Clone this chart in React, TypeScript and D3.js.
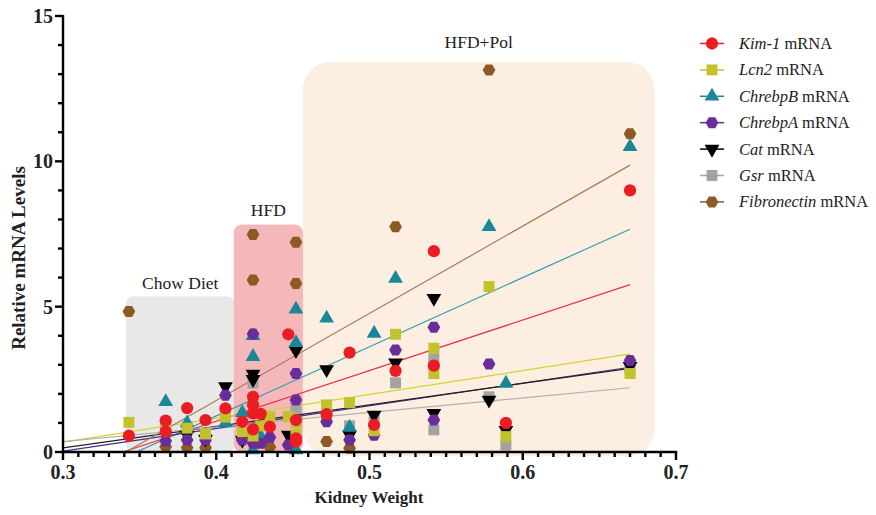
import React from 'react';
import * as d3 from 'd3';

// each point is [kidney weight, relative mRNA level]
const kim1 = [
  [0.343, 0.56], [0.367, 1.08], [0.367, 0.7], [0.381, 1.51], [0.393, 1.1], [0.406, 1.5],
  [0.417, 1.04], [0.424, 1.9], [0.424, 1.62], [0.424, 1.33], [0.424, 0.78], [0.429, 1.31],
  [0.435, 0.87], [0.447, 4.05], [0.452, 1.1], [0.452, 0.47], [0.452, 0.36], [0.472, 1.3],
  [0.487, 3.42], [0.503, 0.93], [0.517, 2.79], [0.542, 6.91], [0.542, 2.97], [0.589, 1.0],
  [0.67, 9.0]
];
const lcn2 = [
  [0.343, 1.02], [0.367, 0.87], [0.381, 0.82], [0.393, 0.62], [0.406, 1.2], [0.417, 0.7],
  [0.424, 0.55], [0.429, 0.9], [0.435, 1.21], [0.447, 1.21], [0.452, 1.0], [0.452, 0.6],
  [0.472, 1.62], [0.487, 1.7], [0.503, 0.73], [0.517, 4.05], [0.542, 3.57], [0.542, 2.7],
  [0.578, 5.69], [0.589, 0.53], [0.67, 2.7]
];
const chrebpB = [
  [0.367, 1.73], [0.381, 1.0], [0.406, 1.0], [0.417, 1.35], [0.424, 4.0], [0.424, 3.28],
  [0.424, 0.07], [0.429, 0.53], [0.452, 4.91], [0.452, 3.76], [0.452, 0.07], [0.472, 4.6],
  [0.487, 0.84], [0.503, 4.08], [0.517, 5.97], [0.578, 7.75], [0.589, 2.36], [0.67, 10.5]
];
const chrebpA = [
  [0.367, 0.38], [0.381, 0.41], [0.393, 0.41], [0.406, 1.95], [0.417, 0.41], [0.424, 4.06],
  [0.424, 0.3], [0.429, 0.3], [0.435, 0.5], [0.447, 0.24], [0.452, 2.7], [0.452, 1.79],
  [0.472, 1.04], [0.487, 0.41], [0.503, 0.58], [0.517, 3.51], [0.542, 4.29], [0.542, 1.1],
  [0.578, 3.03], [0.67, 3.15]
];
const cat = [
  [0.381, 0.58], [0.393, 0.45], [0.406, 2.25], [0.417, 0.41], [0.424, 2.68], [0.424, 2.5],
  [0.447, 0.58], [0.452, 3.49], [0.472, 2.84], [0.487, 0.58], [0.503, 1.27], [0.517, 3.07],
  [0.542, 5.29], [0.542, 1.33], [0.578, 1.79], [0.589, 0.75], [0.67, 2.95]
];
const gsr = [
  [0.367, 0.9], [0.381, 0.85], [0.406, 1.3], [0.424, 2.37], [0.424, 0.6], [0.452, 1.5],
  [0.472, 1.3], [0.487, 0.9], [0.503, 1.1], [0.517, 2.38], [0.542, 3.2], [0.542, 0.76],
  [0.578, 1.9], [0.589, 0.24], [0.67, 2.85]
];
const fibronectin = [
  [0.343, 4.83], [0.367, 0.18], [0.381, 0.15], [0.393, 0.15], [0.424, 7.48], [0.424, 5.92],
  [0.435, 0.17], [0.452, 7.22], [0.452, 5.8], [0.472, 0.36], [0.487, 0.13], [0.517, 7.75],
  [0.578, 13.14], [0.67, 10.95]
];

const geneNames = ['Kim-1', 'Lcn2', 'ChrebpB', 'ChrebpA', 'Cat', 'Gsr', 'Fibronectin'];
const genePoints = [kim1, lcn2, chrebpB, chrebpA, cat, gsr, fibronectin];
// linear fits: y = intercept + slope * x
const fitSlopes = [17.4, 8.2, 23.8, 7.8, 7.4, 5.0, 30];
const fitIntercepts = [-5.9, -2.12, -8.28, -2.31, -2.08, -1.14, -10.23];
const fitEndX = 0.67;

const groupNames = ['Chow Diet', 'HFD', 'HFD+Pol'];
const groupX = [[0.341, 0.412], [0.4115, 0.4565], [0.4565, 0.686]];
const groupTop = [5.35, 7.82, 13.42];

const xTicks = [0.3, 0.4, 0.5, 0.6, 0.7];
const yTicks = [0, 5, 10, 15];

const colors = ['#ec1c24', '#c2c22c', '#1a8798', '#6a2c98', '#000000', '#a3a3a3', '#8c5a22'];
const lineColors = ['#f0323c', '#d4d42a', '#3a9cae', '#4a2a8a', '#222222', '#b0b0b0', '#a57c52'];

const hexagon = {
  draw(ctx, size) {
    const r = Math.sqrt((size * 2) / (3 * Math.sqrt(3)));
    for (let i = 0; i < 6; i++) {
      const a = (Math.PI / 3) * i;
      if (i === 0) ctx.moveTo(r * Math.cos(a), r * Math.sin(a));
      else ctx.lineTo(r * Math.cos(a), r * Math.sin(a));
    }
    ctx.closePath();
  }
};
const shapes = [d3.symbolCircle, d3.symbolSquare, d3.symbolTriangle, hexagon, d3.symbolTriangle, d3.symbolSquare, hexagon];
const sizes = [118, 120, 95, 105, 95, 120, 105];
const rotations = [0, 0, 0, 0, 180, 0, 0];

const serif = "'Liberation Serif', 'DejaVu Serif', serif";

export default function App() {
  const x = d3.scaleLinear().domain([0.3, 0.7]).range([63, 676]);
  const y = d3.scaleLinear().domain([0, 15]).range([452, 16]);
  const order = [6, 5, 4, 2, 3, 1, 0];
  const minorX = d3.range(30, 71).map(d => d / 100);
  const minorY = d3.range(0, 16);
  const fills = ['#e8e8e8', '#f5b8ba', '#fcefe2'];
  const labelGap = [7, 9, 14];

  return (
    <svg width={876} height={515} style={{ position: 'absolute', left: 0, top: 0, background: '#fff' }}>
      {groupNames.map((g, i) => {
        const x0 = x(groupX[i][0]);
        const x1 = x(groupX[i][1]);
        return (
          <g key={g}>
            <rect x={x0} y={y(groupTop[i])} width={x1 - x0} height={y(0) - y(groupTop[i]) + (i === 2 ? 4 : 0)}
              rx={i === 2 ? 28 : 8} fill={fills[i]} />
            <text x={(x0 + x1) / 2} y={y(groupTop[i]) - labelGap[i]} textAnchor="middle" fontFamily={serif}
              fontSize={17.5} fill="#222">{g}</text>
          </g>
        );
      })}
      {/* HFD box drawn over chow box edge */}
      <rect x={x(groupX[1][0])} y={y(groupTop[1])} width={x(groupX[1][1]) - x(groupX[1][0])}
        height={y(0) - y(groupTop[1])} rx={8} fill={fills[1]} />

      <g clipPath="url(#plotclip)">
        <defs>
          <clipPath id="plotclip"><rect x={63} y={16} width={613} height={436} /></clipPath>
        </defs>
        {fitSlopes.map((b, i) => {
          const a = fitIntercepts[i];
          const xs = Math.max(0.3, -a / b);
          return (
            <line key={i} x1={x(xs)} y1={y(a + b * xs)} x2={x(fitEndX)} y2={y(a + b * fitEndX)}
              stroke={lineColors[i]} strokeWidth={1.2} />
          );
        })}
      </g>

      {order.map(i => (
        <g key={geneNames[i]} fill={colors[i]}>
          {genePoints[i].map((p, j) => (
            <path key={j} d={d3.symbol().type(shapes[i]).size(sizes[i])()}
              transform={`translate(${x(p[0])},${y(p[1])}) rotate(${rotations[i]})`} />
          ))}
        </g>
      ))}

      {/* axes */}
      <g stroke="#000" strokeWidth={2.4} fill="none">
        <line x1={63} y1={15} x2={63} y2={453.2} />
        <line x1={61.8} y1={452} x2={677.2} y2={452} />
        {minorY.map(v => (
          <line key={'y' + v} x1={63} x2={v % 5 === 0 ? 55 : 58} y1={y(v)} y2={y(v)} />
        ))}
        {minorX.map(v => (
          <line key={'x' + v} y1={452} y2={Math.round(v * 100) % 10 === 0 ? 460 : 457} x1={x(v)} x2={x(v)} />
        ))}
      </g>
      {yTicks.map(v => (
        <text key={v} x={53} y={y(v) + 7} textAnchor="end" fontFamily={serif} fontWeight="bold"
          fontSize={20} fill="#222">{v}</text>
      ))}
      {xTicks.map(v => (
        <text key={v} x={x(v)} y={479} textAnchor="middle" fontFamily={serif} fontWeight="bold"
          fontSize={20} fill="#222">{v}</text>
      ))}
      <text x={369} y={503} textAnchor="middle" fontFamily={serif} fontWeight="bold" fontSize={17}
        fill="#222">Kidney Weight</text>
      <text transform="translate(25,258) rotate(-90)" textAnchor="middle" fontFamily={serif}
        fontWeight="bold" fontSize={19} fill="#222">Relative mRNA Levels</text>

      {/* legend */}
      {geneNames.map((g, i) => {
        const ly = 43.5 + i * 26.4;
        return (
          <g key={g}>
            <line x1={700} x2={724} y1={ly} y2={ly} stroke={colors[i]} strokeWidth={1.5} />
            <path d={d3.symbol().type(shapes[i]).size(sizes[i])()} fill={colors[i]}
              transform={`translate(712,${ly}) rotate(${rotations[i]})`} />
            <text x={739} y={ly + 5.5} fontFamily={serif} fontSize={16.5} fill="#222">
              <tspan fontStyle="italic">{g}</tspan> mRNA
            </text>
          </g>
        );
      })}
    </svg>
  );
}
